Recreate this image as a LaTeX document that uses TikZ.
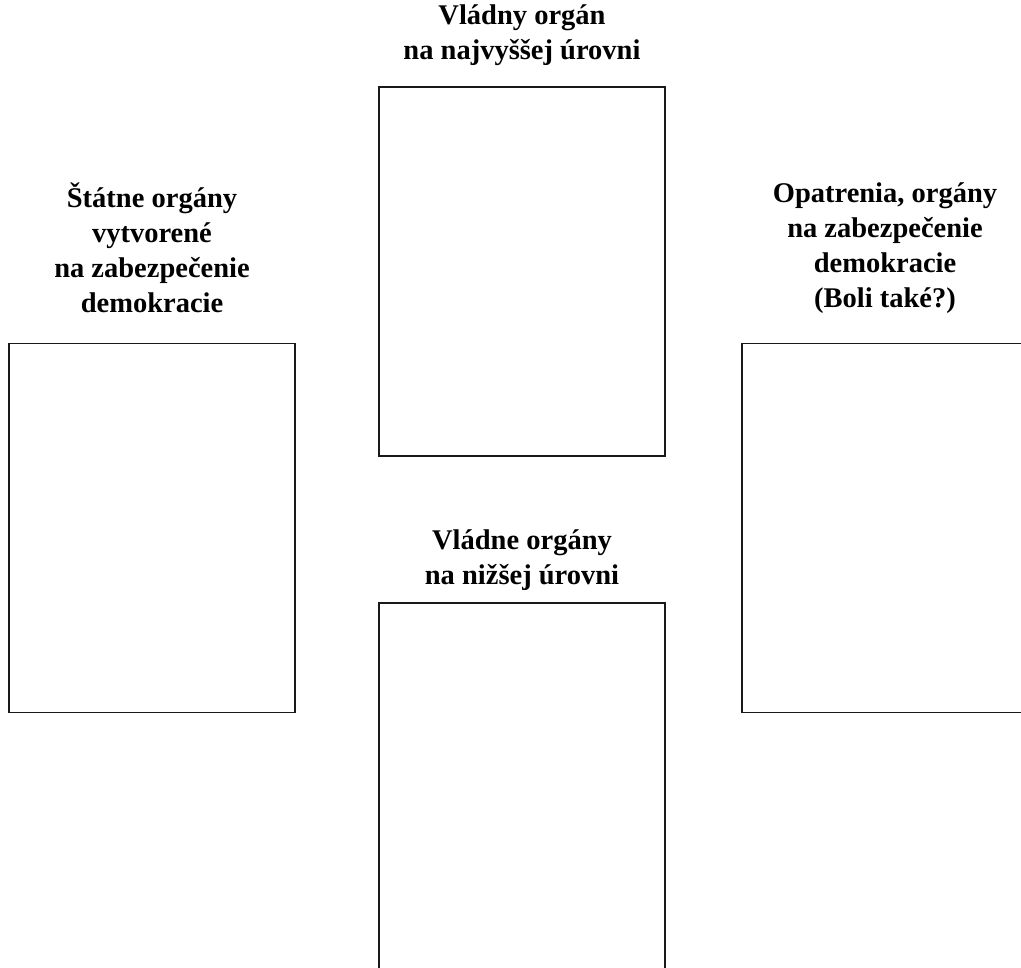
\documentclass[tikz,border=0pt]{standalone}
\usepackage{fontspec}
\setmainfont{Liberation Serif}[BoldFont={Liberation Serif Bold}]
\tikzset{
  px/.style={x=1pt,y=-1pt},
  panel/.style={draw=black!90,line width=1.6pt,rectangle,inner sep=0pt,minimum width=286pt,minimum height=369pt},
  heading/.style={align=center,inner sep=0pt,font=\bfseries\fontsize{28.5}{35}\selectfont}
}
\begin{document}
\begin{tikzpicture}[px]
\useasboundingbox (0,0) rectangle (1021,968);
\clip (0,0) rectangle (1021,968);
\fill[white] (0,0) rectangle (1021,968);
% boxes
\node[panel] (top) at (522,271.5) {};
\node[panel] (left) at (152,528) {};
\node[panel] (right) at (885,528) {};
\node[panel] (bottom) at (522,787.5) {};
% headings
\node[heading] (ttop) at (522,35) {Vládny orgán\\na najvyššej úrovni};
\node[heading] (tleft) at (152,248) {Štátne orgány\\vytvorené\\na zabezpečenie\\demokracie};
\node[heading] (tright) at (885,248) {Opatrenia, orgány\\na zabezpečenie\\demokracie\\(Boli také?)};
\node[heading] (tbottom) at (522,560) {Vládne orgány\\na nižšej úrovni};
\end{tikzpicture}
\end{document}
